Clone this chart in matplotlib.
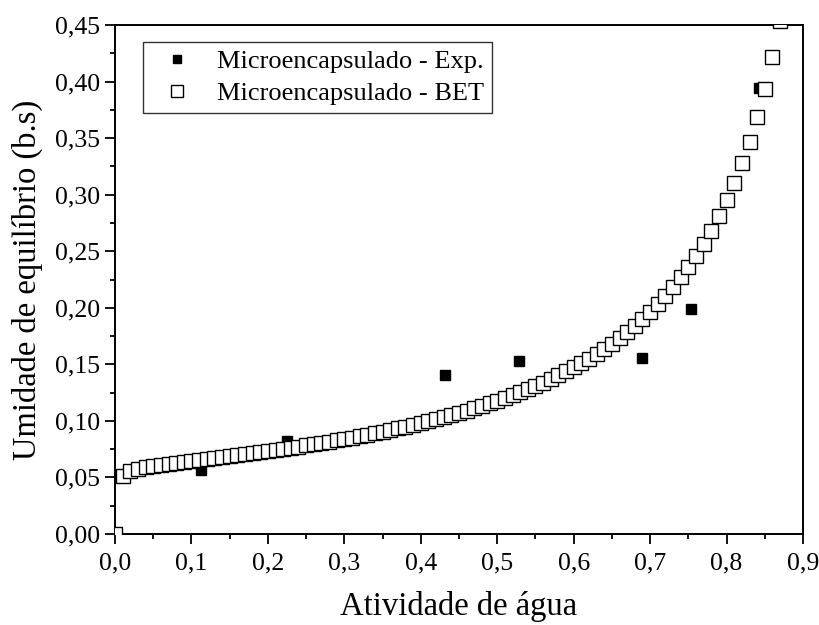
import matplotlib
matplotlib.use("Agg")
import matplotlib.pyplot as plt
from matplotlib.ticker import MultipleLocator, FuncFormatter

plt.rcParams['font.family'] = ['Liberation Serif', 'DejaVu Serif']

# Experimental equilibrium moisture (saturated salt solutions)
aw_exp = [0.113, 0.225, 0.432, 0.529, 0.689, 0.753, 0.843]
m_exp = [0.057, 0.082, 0.141, 0.153, 0.156, 0.199, 0.394]

# BET model curve
aw_bet = [0.00, 0.01, 0.02, 0.03, 0.04, 0.05, 0.06, 0.07, 0.08, 0.09,
          0.10, 0.11, 0.12, 0.13, 0.14, 0.15, 0.16, 0.17, 0.18, 0.19,
          0.20, 0.21, 0.22, 0.23, 0.24, 0.25, 0.26, 0.27, 0.28, 0.29,
          0.30, 0.31, 0.32, 0.33, 0.34, 0.35, 0.36, 0.37, 0.38, 0.39,
          0.40, 0.41, 0.42, 0.43, 0.44, 0.45, 0.46, 0.47, 0.48, 0.49,
          0.50, 0.51, 0.52, 0.53, 0.54, 0.55, 0.56, 0.57, 0.58, 0.59,
          0.60, 0.61, 0.62, 0.63, 0.64, 0.65, 0.66, 0.67, 0.68, 0.69,
          0.70, 0.71, 0.72, 0.73, 0.74, 0.75, 0.76, 0.77, 0.78, 0.79,
          0.80, 0.81, 0.82, 0.83, 0.84, 0.85, 0.86, 0.87]
m_bet = [0.000, 0.0512, 0.0557, 0.0577, 0.0591, 0.0602, 0.0612, 0.0621, 0.0629, 0.0638,
         0.0646, 0.0654, 0.0662, 0.0671, 0.0679, 0.0688, 0.0696, 0.0705, 0.0714, 0.0723,
         0.0733, 0.0742, 0.0752, 0.0762, 0.0772, 0.0783, 0.0794, 0.0805, 0.0816, 0.0828,
         0.0840, 0.0852, 0.0865, 0.0878, 0.0891, 0.0905, 0.0919, 0.0934, 0.0949, 0.0965,
         0.0981, 0.0998, 0.1015, 0.1033, 0.1051, 0.1071, 0.1090, 0.1111, 0.1133, 0.1155,
         0.1178, 0.1202, 0.1227, 0.1253, 0.1281, 0.1309, 0.1339, 0.1370, 0.1403, 0.1437,
         0.1473, 0.1511, 0.1551, 0.1593, 0.1637, 0.1684, 0.1734, 0.1786, 0.1842, 0.1902,
         0.1965, 0.2033, 0.2106, 0.2184, 0.2268, 0.2359, 0.2457, 0.2564, 0.2680, 0.2808,
         0.2949, 0.3104, 0.3276, 0.3469, 0.3686, 0.3932, 0.4213, 0.4537]

label_exp = "Microencapsulado - Exp."
label_bet = "Microencapsulado - BET"
xlabel = "Atividade de água"
ylabel = "Umidade de equilíbrio (b.s)"

fig = plt.figure(figsize=(8.19, 6.25), dpi=100)
ax = fig.add_axes([0.1404, 0.1456, 0.8401, 0.8144])

ax.plot(aw_exp, m_exp, linestyle='none', marker='s', markersize=6.6,
        markerfacecolor='black', markeredgecolor='black', label=label_exp, zorder=3)
ax.plot(aw_bet, m_bet, linestyle='none', marker='s', markersize=9.6,
        markerfacecolor='white', markeredgecolor='black', markeredgewidth=1.0,
        label=label_bet, zorder=4)

ax.set_xlim(0, 0.9)
ax.set_ylim(0, 0.45)
ax.xaxis.set_major_locator(MultipleLocator(0.1))
ax.xaxis.set_minor_locator(MultipleLocator(0.05))
ax.yaxis.set_major_locator(MultipleLocator(0.05))
ax.yaxis.set_minor_locator(MultipleLocator(0.025))
ax.xaxis.set_major_formatter(FuncFormatter(lambda v, p: f"{v:.1f}".replace('.', ',')))
ax.yaxis.set_major_formatter(FuncFormatter(lambda v, p: f"{v:.2f}".replace('.', ',')))

ax.tick_params(which='major', direction='out', length=7, width=1.3,
               labelsize=18.5, top=False, right=False)
ax.tick_params(axis='x', which='major', pad=6)
ax.tick_params(axis='y', which='major', pad=4)
ax.tick_params(which='minor', direction='out', length=3.5, width=1.3,
               top=False, right=False)
for s in ax.spines.values():
    s.set_linewidth(1.4)

ax.set_xlabel(xlabel, fontsize=23.5, labelpad=12)
ax.set_ylabel(ylabel, fontsize=23.5, labelpad=8)

leg = ax.legend(loc='upper left', bbox_to_anchor=(0.0407, 0.9666), borderaxespad=0,
                fontsize=19, frameon=True, fancybox=False, edgecolor='black',
                handletextpad=0.5, borderpad=0.3, labelspacing=0.3,
                handlelength=2.0, markerscale=0.85)
leg.get_frame().set_linewidth(1.0)

fig.savefig("out.png", dpi=100)
